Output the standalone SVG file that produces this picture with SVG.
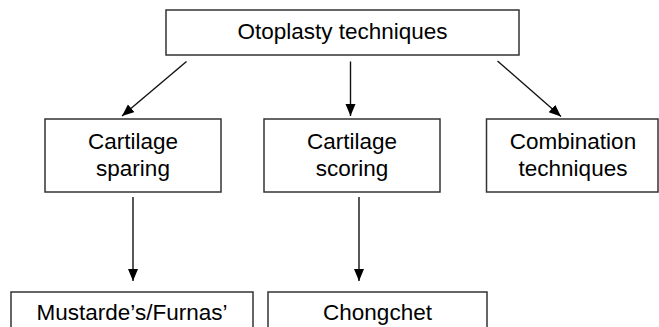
<svg xmlns="http://www.w3.org/2000/svg" width="659" height="327" viewBox="0 0 659 327">
<style>
.box{fill:#fff;stroke:#333;stroke-width:1.5}
.lbl{font-family:"Liberation Sans",Arial,sans-serif;font-size:22.5px;fill:#000;text-anchor:middle}
.conn{stroke:#111;stroke-width:1.4;fill:none;marker-end:url(#ah)}
</style>
<defs>
<marker id="ah" markerUnits="userSpaceOnUse" markerWidth="13" markerHeight="11" refX="12" refY="5" orient="auto">
<path d="M0,0 L12,5 L0,10 z" fill="#000"/>
</marker>
</defs>
<rect width="659" height="327" fill="#fff"/>
<g id="connectors">
<line class="conn" x1="186.5" y1="61.5" x2="122" y2="116"/>
<line class="conn" x1="350.5" y1="61.5" x2="350.5" y2="116"/>
<line class="conn" x1="497.5" y1="61" x2="561" y2="116.5"/>
<line class="conn" x1="133" y1="197" x2="133" y2="281"/>
<line class="conn" x1="359" y1="197" x2="359" y2="281"/>
</g>
<g id="n-top">
<rect class="box" x="166" y="10" width="353" height="45"/>
<text class="lbl" x="342.5" y="38.5">Otoplasty techniques</text>
</g>
<g id="n-sparing">
<rect class="box" x="45" y="119" width="176" height="73"/>
<text class="lbl" x="133" y="148.5">Cartilage</text>
<text class="lbl" x="133" y="175.5">sparing</text>
</g>
<g id="n-scoring">
<rect class="box" x="264" y="119" width="176" height="73"/>
<text class="lbl" x="352" y="148.5">Cartilage</text>
<text class="lbl" x="352" y="175.5">scoring</text>
</g>
<g id="n-combination">
<rect class="box" x="486.5" y="119" width="171.5" height="73"/>
<text class="lbl" x="573" y="148.5">Combination</text>
<text class="lbl" x="573" y="175.5">techniques</text>
</g>
<g id="n-mustarde">
<rect class="box" x="11" y="292" width="242" height="50"/>
<text class="lbl" x="132" y="319.5">Mustarde’s/Furnas’</text>
</g>
<g id="n-chongchet">
<rect class="box" x="268" y="292" width="219" height="50"/>
<text class="lbl" x="377.5" y="319.5">Chongchet</text>
</g>
</svg>
